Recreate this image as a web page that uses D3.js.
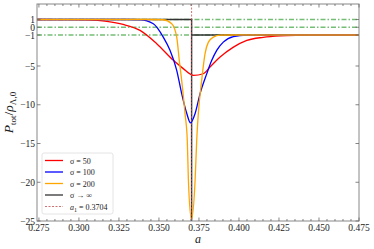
<!DOCTYPE html>
<html>
<head>
<meta charset="utf-8">
<script src="https://cdn.jsdelivr.net/npm/d3@7"></script>
<style>
  body { margin: 0; background: #fff; }
  svg { display: block; }
  text { font-family: "Liberation Serif", "DejaVu Serif", serif; fill: #222; }
</style>
</head>
<body>
<script>
// values
const aRed = [0.2738, 0.295, 0.305, 0.3174, 0.3276, 0.3382, 0.3486, 0.359, 0.3652, 0.3715, 0.3777, 0.3819, 0.3882, 0.3963, 0.4049, 0.4151, 0.4257, 0.4361, 0.4463, 0.475]
const pRed = [1, 0.99, 0.95, 0.75, 0.36, -0.41, -2.12, -4.27, -5.34, -6.2, -6.0, -5.13, -3.85, -2.6, -1.7, -1.3, -1.1, -1.03, -1.01, -1]

const aBlue = [0.2738, 0.33, 0.3382, 0.3465, 0.3527, 0.3569, 0.3611, 0.3642, 0.3674, 0.3697, 0.3726, 0.3757, 0.3799, 0.383, 0.3861, 0.3902, 0.3965, 0.4049, 0.42, 0.475]
const pBlue = [1, 1, 0.97, 0.45, -1.27, -2.98, -5.56, -8.56, -11.13, -12.35, -11.13, -8.56, -5.98, -4.27, -2.98, -1.92, -1.2, -1.02, -1, -1]

const aOrange = [0.2738, 0.345, 0.3526, 0.358, 0.3611, 0.3627, 0.3642, 0.3663, 0.3677, 0.3684, 0.3703, 0.3726, 0.3736, 0.3746, 0.3767, 0.3788, 0.3809, 0.384, 0.3882, 0.395, 0.475]
const pOrange = [1, 1, 0.97, 0.45, -1.27, -4.27, -6.85, -11.13, -14.57, -19.71, -24.77, -19.71, -14.57, -11.13, -6.85, -3.41, -1.92, -1.27, -1.02, -1, -1]

const a1 = 0.3704
const aStep = [0.2738, a1, a1, a1, 0.475]
const pStep = [1, 1, -25, -1, -1]

const hLevels = [1, 0, -1]
const xTicks = [0.275, 0.3, 0.325, 0.35, 0.375, 0.4, 0.425, 0.45, 0.475]
const yTicks = [1, 0, -1, -5, -10, -15, -20, -25]
const legendNames = ['σ = 50', 'σ = 100', 'σ = 200', 'σ → ∞']

let margin = { top: 4, right: 15, bottom: 28, left: 37 },
    width = 374 - margin.left - margin.right,
    height = 249 - margin.top - margin.bottom;

let x = d3.scaleLinear().domain([0.2738, 0.475]).range([0, width])
let y = d3.scaleLinear().domain([-25, 3]).range([height, 0])

let svg = d3.select("body").append("svg")
    .attr("width", 374)
    .attr("height", 249)
    .append("g")
    .attr("transform", "translate(" + margin.left + "," + margin.top + ")")

svg.append("clipPath").attr("id", "clip")
    .append("rect").attr("width", width).attr("height", height)

const plot = svg.append("g").attr("clip-path", "url(#clip)")

// dash-dot reference levels
hLevels.map(v => {
    plot.append("line")
        .attr("x1", 0).attr("x2", width)
        .attr("y1", y(v)).attr("y2", y(v))
        .attr("stroke", "#3aa33a")
        .attr("stroke-opacity", 0.7)
        .attr("stroke-width", 1.4)
        .attr("stroke-dasharray", "5,2,1.5,2")
})

const line = d3.line()
    .x(d => x(d[0]))
    .y(d => y(d[1]))
    .curve(d3.curveMonotoneX)

const series = [
    { a: aRed, p: pRed, color: "red" },
    { a: aBlue, p: pBlue, color: "blue" },
    { a: aOrange, p: pOrange, color: "orange" },
]

// step limit first, so the curves sit on top
plot.append("path")
    .datum(aStep.map((a, i) => [a, pStep[i]]))
    .attr("fill", "none")
    .attr("stroke", "#333")
    .attr("stroke-width", 1.4)
    .attr("d", d3.line().x(d => x(d[0])).y(d => y(d[1])))

series.map(s => {
    plot.append("path")
        .datum(s.a.map((a, i) => [a, s.p[i]]))
        .attr("fill", "none")
        .attr("stroke", s.color)
        .attr("stroke-width", 1.3)
        .attr("d", line)
})

plot.append("line")
    .attr("x1", x(a1)).attr("x2", x(a1))
    .attr("y1", 0).attr("y2", height)
    .attr("stroke", "#c0504d")
    .attr("stroke-opacity", 0.8)
    .attr("stroke-width", 1)
    .attr("stroke-dasharray", "2,1.5")

// axes, ticks inward on all four sides
const xMinor = d3.range(0.275, 0.4751, 0.005)
const frame = svg.append("g").attr("class", "frame")
frame.append("rect")
    .attr("width", width).attr("height", height)
    .attr("fill", "none").attr("stroke", "#888").attr("stroke-width", 1)

xMinor.map(t => {
    const major = xTicks.some(m => Math.abs(m - t) < 1e-6)
    const len = major ? 3.5 : 2
    frame.append("line").attr("x1", x(t)).attr("x2", x(t))
        .attr("y1", height).attr("y2", height - len).attr("stroke", "#666").attr("stroke-width", 0.8)
    frame.append("line").attr("x1", x(t)).attr("x2", x(t))
        .attr("y1", 0).attr("y2", len).attr("stroke", "#666").attr("stroke-width", 0.8)
})
yTicks.map(t => {
    frame.append("line").attr("x1", 0).attr("x2", 3.5)
        .attr("y1", y(t)).attr("y2", y(t)).attr("stroke", "#666").attr("stroke-width", 0.8)
    frame.append("line").attr("x1", width).attr("x2", width - 3.5)
        .attr("y1", y(t)).attr("y2", y(t)).attr("stroke", "#666").attr("stroke-width", 0.8)
})

xTicks.map(t => {
    svg.append("text")
        .attr("text-anchor", "middle")
        .attr("x", x(t))
        .attr("y", height + 10)
        .style("font-size", "9.5px")
        .text(t.toFixed(3))
})
yTicks.map(t => {
    svg.append("text")
        .attr("text-anchor", "end")
        .attr("x", -2)
        .attr("y", y(t) + 3.5)
        .style("font-size", "9.5px")
        .text(t < 0 ? "−" + Math.abs(t) : String(t))
})

svg.append("text")
    .attr("text-anchor", "middle")
    .attr("x", width / 2)
    .attr("y", height + 22)
    .style("font-size", "12px")
    .style("font-style", "italic")
    .text("a")

const yl = svg.append("text")
    .attr("text-anchor", "middle")
    .attr("transform", "translate(-24," + (height / 2) + ") rotate(-90)")
    .style("font-size", "13.5px")
yl.append("tspan").style("font-style", "italic").text("P")
yl.append("tspan").attr("dy", 3).style("font-size", "9px").text("tot")
yl.append("tspan").attr("dy", -3).text("/")
yl.append("tspan").style("font-style", "italic").text("ρ")
yl.append("tspan").attr("dy", 3).style("font-size", "9px").text("Λ,0")

// legend
const lg = svg.append("g").attr("transform", "translate(5,149)")
lg.append("rect")
    .attr("width", 71).attr("height", 61).attr("rx", 2)
    .attr("fill", "#fff").attr("fill-opacity", 0.85)
    .attr("stroke", "#ddd").attr("stroke-width", 0.8)
const legendColors = ["red", "blue", "orange", "#333"]
legendNames.map((n, i) => {
    lg.append("line").attr("x1", 3).attr("x2", 21)
        .attr("y1", 7.5 + i * 11.5).attr("y2", 7.5 + i * 11.5)
        .attr("stroke", legendColors[i]).attr("stroke-width", 1.3)
    lg.append("text").attr("x", 28).attr("y", 10.5 + i * 11.5)
        .style("font-size", "8px").text(n)
})
lg.append("line").attr("x1", 3).attr("x2", 21)
    .attr("y1", 7.5 + 4 * 11.5).attr("y2", 7.5 + 4 * 11.5)
    .attr("stroke", "#c0504d").attr("stroke-opacity", 0.8)
    .attr("stroke-width", 1).attr("stroke-dasharray", "2,1.5")
const lt = lg.append("text").attr("x", 28).attr("y", 10.5 + 4 * 11.5).style("font-size", "8px")
lt.append("tspan").style("font-style", "italic").text("a")
lt.append("tspan").attr("dy", 2).style("font-size", "6px").text("1")
lt.append("tspan").attr("dy", -2).text(" = " + a1)
</script>
</body>
</html>
